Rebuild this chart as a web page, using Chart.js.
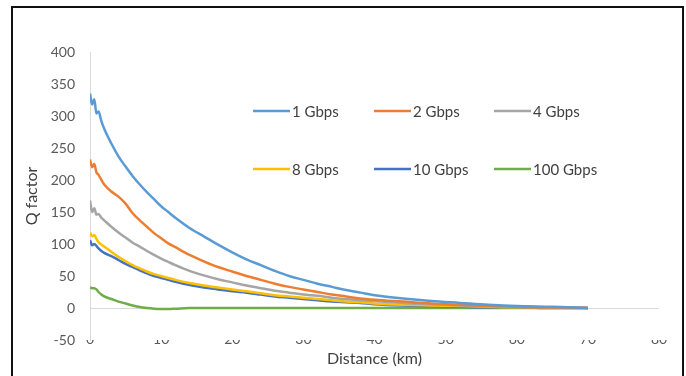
<!DOCTYPE html>
<html>
<head>
<meta charset="utf-8">
<script src="https://cdn.jsdelivr.net/npm/chart.js@4"></script>
<style>
  html, body { margin: 0; padding: 0; background: #fff; }
  #wrap { position: relative; width: 686px; height: 376px; overflow: hidden; }
  #frame {
    position: absolute; left: 11px; top: 6px; width: 669px; height: 400px;
    border: 2px solid #111; pointer-events: none;
  }
</style>
</head>
<body>
<div id="wrap">
  <canvas id="line_chart1" width="686" height="376"></canvas>
  <div id="frame"></div>
</div>
<script>
'use strict';
// distance (km) shared by every series
var distance = [0, 0.3, 0.6, 0.9, 1.2, 1.6, 2, 3, 4, 5, 6, 7, 8, 9, 10, 11, 12, 14, 16, 18, 20,
    22, 24, 26, 28, 30, 32, 34, 36, 38, 40, 44, 48, 52, 56, 60, 65, 70];

var q1G = [335, 318, 326, 304, 307, 292, 280, 257, 237, 221, 206, 193, 181, 170, 159, 150, 141, 125, 112, 99, 87,
    76, 67, 58, 50, 44, 38, 33, 28, 24, 20, 15, 11, 8, 5, 3, 2, 0];
var q2G = [232, 220, 225, 212, 208, 200, 193, 182, 174, 163, 148, 137, 127, 117, 109, 101, 95, 83, 73, 64, 57,
    50, 44, 38, 33, 29, 25, 21, 18, 15, 13, 10, 7, 5, 3, 2, 1, 0];
var q4G = [168, 150, 156, 146, 147, 141, 137, 127, 118, 110, 102, 96, 89, 83, 77, 72, 67, 58, 51, 45, 40,
    35, 31, 27, 24, 21, 19, 16, 14, 12, 11, 8, 6, 4, 3, 2, 1, 0];
var q8G = [118, 112, 114, 108, 103, 99, 96, 88, 80, 73, 67, 62, 57, 53, 50, 47, 44, 39, 35, 32, 29,
    26, 23, 20, 18, 16, 14, 12, 10, 9, 7, 5, 4, 3, 2, 1, 1, 0];
var q10G = [106, 98, 100, 97, 93, 89, 86, 81, 75, 69, 64, 59, 54, 50, 47, 44, 41, 36, 32, 29, 26,
    24, 21, 18, 16, 14, 12, 10, 9, 8, 6, 4, 3, 2, 1, 1, 0, 0];
var q100G = [32, 31, 31, 29, 25, 21, 18, 14, 10, 7, 4, 1.5, 0, -1, -1.5, -1.5, -1, 0, 0, 0, 0,
    0, 0, 0, 0, 0, 0, 0, 0, 0, 0, 0, 0, 0, 0, 0, 0, 0];

var seriesNames = ['1 Gbps', '2 Gbps', '4 Gbps', '8 Gbps', '10 Gbps', '100 Gbps'];
var seriesColors = ['#5B9BD5', '#ED7D31', '#A5A5A5', '#FFC000', '#4472C4', '#70AD47'];
var seriesValues = [q1G, q2G, q4G, q8G, q10G, q100G];

var xTicks = [0, 10, 20, 30, 40, 50, 60, 70, 80];
var yTicks = [-50, 0, 50, 100, 150, 200, 250, 300, 350, 400];

var fontFamily = 'Lato, "Open Sans", sans-serif';

let datasets = seriesNames.map((name, i) => {
    return {
        label: name,
        data: distance.map((d, j) => ({ x: d, y: seriesValues[i][j] })),
        borderColor: seriesColors[i],
        backgroundColor: seriesColors[i],
        borderWidth: 2.5,
        pointRadius: 0,
        fill: false,
        cubicInterpolationMode: 'monotone'
    };
});

// legend in two rows of three, inside the plot like the Excel original
let legendInPlot = {
    id: 'legendInPlot',
    afterDraw(chart) {
        let ctx = chart.ctx;
        let area = chart.chartArea;
        let colX = [163, 284, 404];
        let rowY = [59, 117];
        ctx.save();
        ctx.font = '15px ' + fontFamily;
        ctx.textBaseline = 'middle';
        ctx.fillStyle = '#404040';
        chart.data.datasets.forEach((ds, i) => {
            let x = area.left + colX[i % 3];
            let y = area.top + rowY[Math.floor(i / 3)];
            ctx.strokeStyle = ds.borderColor;
            ctx.lineWidth = 2.5;
            ctx.beginPath();
            ctx.moveTo(x, y);
            ctx.lineTo(x + 37, y);
            ctx.stroke();
            ctx.fillText(ds.label, x + 39, y + 1);
        });
        ctx.restore();
    }
};

let config = {
    type: 'line',
    data: { datasets: datasets },
    options: {
        responsive: false,
        animation: false,
        layout: { padding: { left: 12, right: 27, top: 52, bottom: 0 } },
        plugins: { legend: { display: false }, tooltip: { enabled: false } },
        scales: {
            x: {
                type: 'linear',
                min: 0,
                max: 80,
                afterBuildTicks: scale => { scale.ticks = xTicks.map(v => ({ value: v })); },
                afterFit: scale => { scale.height = 36; },
                grid: { display: false, drawTicks: false },
                border: { display: false },
                ticks: { padding: -9, color: '#595959', font: { family: fontFamily, size: 14 } },
                title: {
                    display: true,
                    text: 'Distance (km)',
                    color: '#404040',
                    font: { family: fontFamily, size: 16 },
                    padding: { top: 0, bottom: 8 }
                }
            },
            y: {
                min: -50,
                max: 400,
                afterBuildTicks: scale => { scale.ticks = yTicks.map(v => ({ value: v })); },
                afterFit: scale => { scale.width = 78; },
                grid: {
                    drawTicks: false,
                    color: c => (c.tick && c.tick.value === 0 ? '#D9D9D9' : 'rgba(0,0,0,0)'),
                    lineWidth: 1
                },
                border: { display: true, color: '#D9D9D9', width: 1 },
                ticks: { padding: 15, color: '#595959', font: { family: fontFamily, size: 14 } },
                title: {
                    display: true,
                    text: 'Q factor',
                    color: '#404040',
                    font: { family: fontFamily, size: 16 },
                    padding: { top: 10, bottom: 0 }
                }
            }
        }
    },
    plugins: [legendInPlot]
};

new Chart(document.getElementById('line_chart1').getContext('2d'), config);
</script>
</body>
</html>
